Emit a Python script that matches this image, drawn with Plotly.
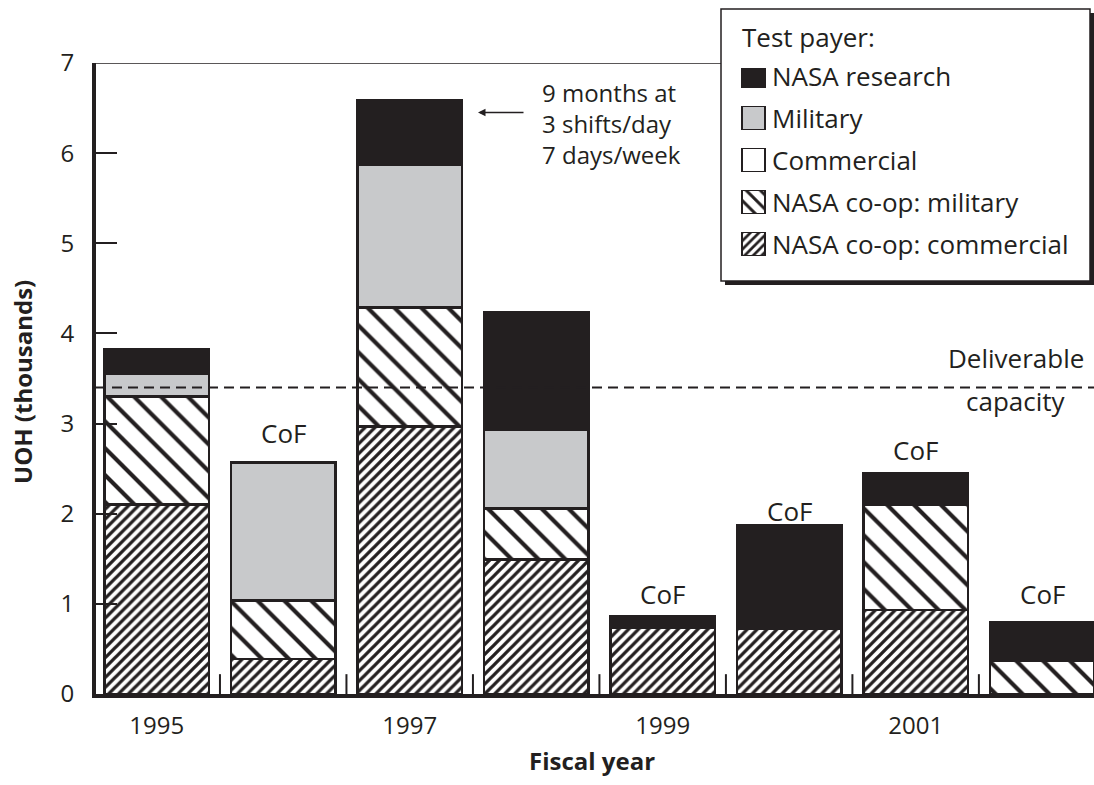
import plotly.graph_objects as go

# values (UOH, thousands)
years = [1995, 1996, 1997, 1998, 1999, 2000, 2001, 2002]
coop_commercial = [2.10, 0.39, 2.97, 1.49, 0.73, 0.72, 0.93, 0.0]
coop_military = [1.20, 0.65, 1.32, 0.57, 0.0, 0.0, 1.17, 0.37]
commercial = [0.0, 0.0, 0.0, 0.0, 0.0, 0.0, 0.0, 0.0]
military = [0.25, 1.53, 1.58, 0.87, 0.0, 0.0, 0.0, 0.0]
nasa_research = [0.27, 0.0, 0.72, 1.31, 0.13, 1.15, 0.35, 0.43]

tick_years = [1995, 1997, 1999, 2001]
cof_years = [1996, 1999, 2000, 2001, 2002]
cof_y = [2.90, 1.11, 2.03, 2.71, 1.11]
capacity = 3.4

BLACK = "#231f20"
GREY = "#c8c9cb"
FONT = "Open Sans"

W, H = 1094, 785
L, R, T, B = 96, 0, 63, 91


def px_x(px):
    return (px - L) / (W - L - R)


def px_y(py):
    return (H - B - py) / (H - T - B)


def style(name, legend=False):
    if name == "NASA research":
        return dict(color=BLACK)
    if name == "Military":
        return dict(color=GREY)
    if name == "Commercial":
        return dict(color="white")
    if name == "NASA co-op: military":
        return dict(color="white", pattern=dict(shape="\\", size=10 if legend else 19,
                                                solidity=0.3 if legend else 0.22,
                                                fgcolor=BLACK, bgcolor="white", fgopacity=1))
    return dict(color="white", pattern=dict(shape="/", size=6 if legend else 7,
                                            solidity=0.45 if legend else 0.47,
                                            fgcolor=BLACK, bgcolor="white", fgopacity=1))


stack = [("NASA co-op: commercial", coop_commercial),
         ("NASA co-op: military", coop_military),
         ("Commercial", commercial),
         ("Military", military),
         ("NASA research", nasa_research)]
legend_order = ["NASA research", "Military", "Commercial",
                "NASA co-op: military", "NASA co-op: commercial"]

fig = go.Figure()
for name, vals in stack:
    fig.add_trace(go.Bar(x=years, y=vals, name=name, width=0.825, showlegend=False,
                         marker=dict(**style(name), line=dict(color=BLACK, width=2.5))))

# small separator ticks between the fiscal years
sep_x, sep_y = [], []
for y in years[:-1]:
    sep_x += [y + 0.5, y + 0.5, None]
    sep_y += [0, 0.22, None]
fig.add_trace(go.Scatter(x=sep_x, y=sep_y, mode="lines", showlegend=False, hoverinfo="skip",
                         line=dict(color=BLACK, width=2)))

# legend swatches drawn as small bars on a hidden overlay axis
rows_px = [76, 118, 160, 202, 244]
for i, name in enumerate(legend_order):
    fig.add_trace(go.Bar(x=[1], y=[4 - i], orientation="h", width=0.55, xaxis="x2", yaxis="y2",
                         showlegend=False, hoverinfo="skip",
                         marker=dict(**style(name, legend=True), line=dict(color=BLACK, width=1.5))))

sw_l, sw_r = 742, 765
fig.update_layout(
    xaxis2=dict(domain=[px_x(737), px_x(770)], anchor="y2", visible=False,
                range=[-(sw_l - 737) / (sw_r - sw_l), 1 + (770 - sw_r) / (sw_r - sw_l)]),
    yaxis2=dict(domain=[px_y(266), px_y(68)], anchor="x2", visible=False,
                range=[(244 - 266) / 42, (244 - 68) / 42]),
)

fig.update_layout(
    width=W, height=H, barmode="stack",
    margin=dict(l=L, r=R, t=T, b=B),
    paper_bgcolor="white", plot_bgcolor="rgba(0,0,0,0)",
    font=dict(family=FONT, color=BLACK, size=26),
    xaxis=dict(type="linear", range=[1994.52, 2002.41], tickmode="array", tickvals=tick_years,
               ticktext=[str(y) for y in tick_years], ticks="", ticklabelstandoff=7,
               tickfont=dict(size=24), showline=True, linewidth=4, linecolor=BLACK,
               showgrid=False, zeroline=False),
    yaxis=dict(range=[0, 7], tickvals=list(range(8)), ticks="inside", ticklen=21,
               tickwidth=1.5, tickcolor=BLACK, ticklabelstandoff=13,
               tickfont=dict(size=24), showline=True, linewidth=4, linecolor=BLACK,
               showgrid=False, zeroline=False),
)

shapes = [
    dict(type="line", xref="paper", yref="y", x0=0, x1=1, y0=7, y1=7,
         line=dict(color=BLACK, width=1.5), layer="below"),
    dict(type="rect", xref="paper", yref="paper", x0=px_x(725), x1=px_x(1094),
         y0=px_y(285), y1=px_y(13), fillcolor=BLACK, line=dict(width=0), layer="below"),
    dict(type="rect", xref="paper", yref="paper", x0=px_x(721), x1=px_x(1090),
         y0=px_y(281), y1=px_y(9), fillcolor="white", line=dict(color=BLACK, width=1.5),
         layer="below"),
    dict(type="line", xref="paper", yref="y", x0=0, x1=1, y0=capacity, y1=capacity,
         line=dict(color=BLACK, width=2, dash="10px,6px"), layer="above"),
]
fig.update_layout(shapes=shapes)

ann = []
for x, y in zip(cof_years, cof_y):
    ann.append(dict(x=x, y=y, text="CoF", showarrow=False))
ann.append(dict(x=2001.79, y=capacity, yshift=30, text="Deliverable", showarrow=False))
ann.append(dict(x=2001.79, y=capacity, yshift=-13, text="capacity", showarrow=False))
ann.append(dict(x=1998.03, y=6.33, text="9 months at<br>3 shifts/day<br>7 days/week",
                xanchor="left", yanchor="middle", align="left", showarrow=False,
                font=dict(size=24)))
ann.append(dict(x=1997.54, y=6.45, ax=47, ay=0, text="", showarrow=True,
                arrowhead=2, arrowsize=1, arrowwidth=1.5, arrowcolor=BLACK))
ann.append(dict(xref="paper", yref="paper", x=px_x(740), y=px_y(37), text="Test payer:",
                xanchor="left", yanchor="middle", showarrow=False))
for py, name in zip(rows_px, legend_order):
    ann.append(dict(xref="paper", yref="paper", x=px_x(770), y=px_y(py), text=name,
                    xanchor="left", yanchor="middle", showarrow=False))
ann.append(dict(xref="paper", yref="paper", x=px_x(592), y=px_y(760), text="<b>Fiscal year</b>",
                xanchor="center", yanchor="middle", showarrow=False, font=dict(size=24)))
ann.append(dict(xref="paper", yref="paper", x=px_x(22), y=px_y(382),
                text="<b>UOH (thousands)</b>", textangle=-90, xanchor="center",
                yanchor="middle", showarrow=False, font=dict(size=24)))
fig.update_layout(annotations=ann)

fig.write_html("out.html", config={"displayModeBar": False},
               post_script="document.body.style.margin='0px';")
